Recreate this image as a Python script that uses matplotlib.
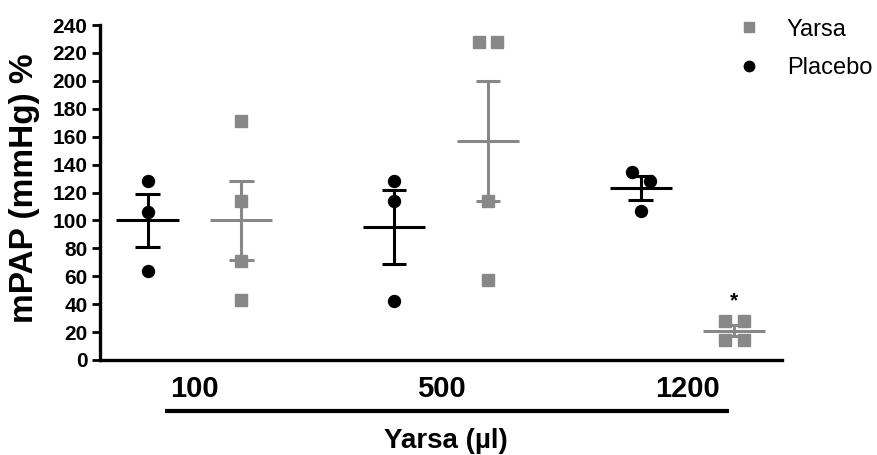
import numpy as np
import matplotlib.pyplot as plt
from matplotlib.lines import Line2D

plt.rcParams['font.family'] = ['Liberation Sans', 'DejaVu Sans']

doses = ['100', '500', '1200']

# individual animals
placebo_vals = [[128, 106, 64], [128, 114, 42], [135, 128, 107]]
yarsa_vals = [[171, 114, 71, 43], [228, 228, 114, 57], [28, 28, 14, 14]]

# mean and SEM as drawn
placebo_mean = [100, 95, 123.5]
placebo_sem_lo = [81, 68.5, 114.5]
placebo_sem_hi = [119, 121.5, 132]
yarsa_mean = [100, 157, 21]
yarsa_sem_lo = [72, 114, 17]
yarsa_sem_hi = [128, 200, 25]

# horizontal scatter of overlapping points
placebo_jit = [[0, 0, 0], [0, 0, 0], [-0.037, 0.037, 0]]
yarsa_jit = [[0, 0, 0, 0], [-0.037, 0.037, 0, 0], [-0.04, 0.04, -0.04, 0.04]]

grey = '#888888'
off = 0.19

fig = plt.figure(figsize=(8.77, 4.55), dpi=100)
ax = fig.add_axes([0.114, 0.2088, 0.7777, 0.7362])

def group(ax, xc, vals, jit, mean, lo, hi, color, marker, ms):
    ax.hlines(mean, xc - 0.126, xc + 0.126, color=color, lw=2.2, zorder=2)
    ax.hlines([lo, hi], xc - 0.05, xc + 0.05, color=color, lw=2.2, zorder=2)
    ax.vlines(xc, lo, hi, color=color, lw=2.2, zorder=2)
    ax.plot(xc + np.array(jit), vals, ls='none', marker=marker, ms=ms,
            color=color, mec=color, zorder=3)

for i in range(len(doses)):
    group(ax, i - off, placebo_vals[i], placebo_jit[i], placebo_mean[i],
          placebo_sem_lo[i], placebo_sem_hi[i], 'black', 'o', 8.6)
    group(ax, i + off, yarsa_vals[i], yarsa_jit[i], yarsa_mean[i],
          yarsa_sem_lo[i], yarsa_sem_hi[i], grey, 's', 8.4)

ax.text(2 + off, 42, '*', ha='center', va='center', fontsize=15, fontweight='bold')

ax.set_xlim(-0.383, 2.383)
ax.set_ylim(0, 240)
ax.set_yticks(np.arange(0, 241, 20))
ax.set_xticks(range(len(doses)))
ax.set_xticklabels(doses, fontsize=21, fontweight='bold')
ax.tick_params(axis='x', length=0, pad=11)
ax.tick_params(axis='y', length=6, width=2, pad=3, labelsize=15)
for lab in ax.get_yticklabels():
    lab.set_fontweight('bold')
for s in ['top', 'right']:
    ax.spines[s].set_visible(False)
for s in ['left', 'bottom']:
    ax.spines[s].set_linewidth(2.4)

ax.set_ylabel('mPAP (mmHg) %', fontsize=24, fontweight='bold')
ax.yaxis.set_label_coords(-0.088, 0.513)

# bar under the dose labels
ax.plot([-0.12, 2.168], [-0.151, -0.151], color='black', lw=3, clip_on=False,
        transform=ax.get_xaxis_transform(), solid_capstyle='butt')
fig.text(446 / 877, 1 - 441 / 455, 'Yarsa (\u00b5l)', ha='center', va='center',
         fontsize=20, fontweight='bold')

handles = [Line2D([], [], ls='none', marker='s', ms=7.5, color=grey),
           Line2D([], [], ls='none', marker='o', ms=7.5, color='black')]
fig.legend(handles, ['Yarsa', 'Placebo'], loc='upper left',
           bbox_to_anchor=(735 / 877, 1 - 18.5 / 455), frameon=False,
           fontsize=17, handlelength=1.2, handletextpad=1.0,
           labelspacing=0.7, borderpad=0, borderaxespad=0)

fig.savefig('out.png', dpi=100)
